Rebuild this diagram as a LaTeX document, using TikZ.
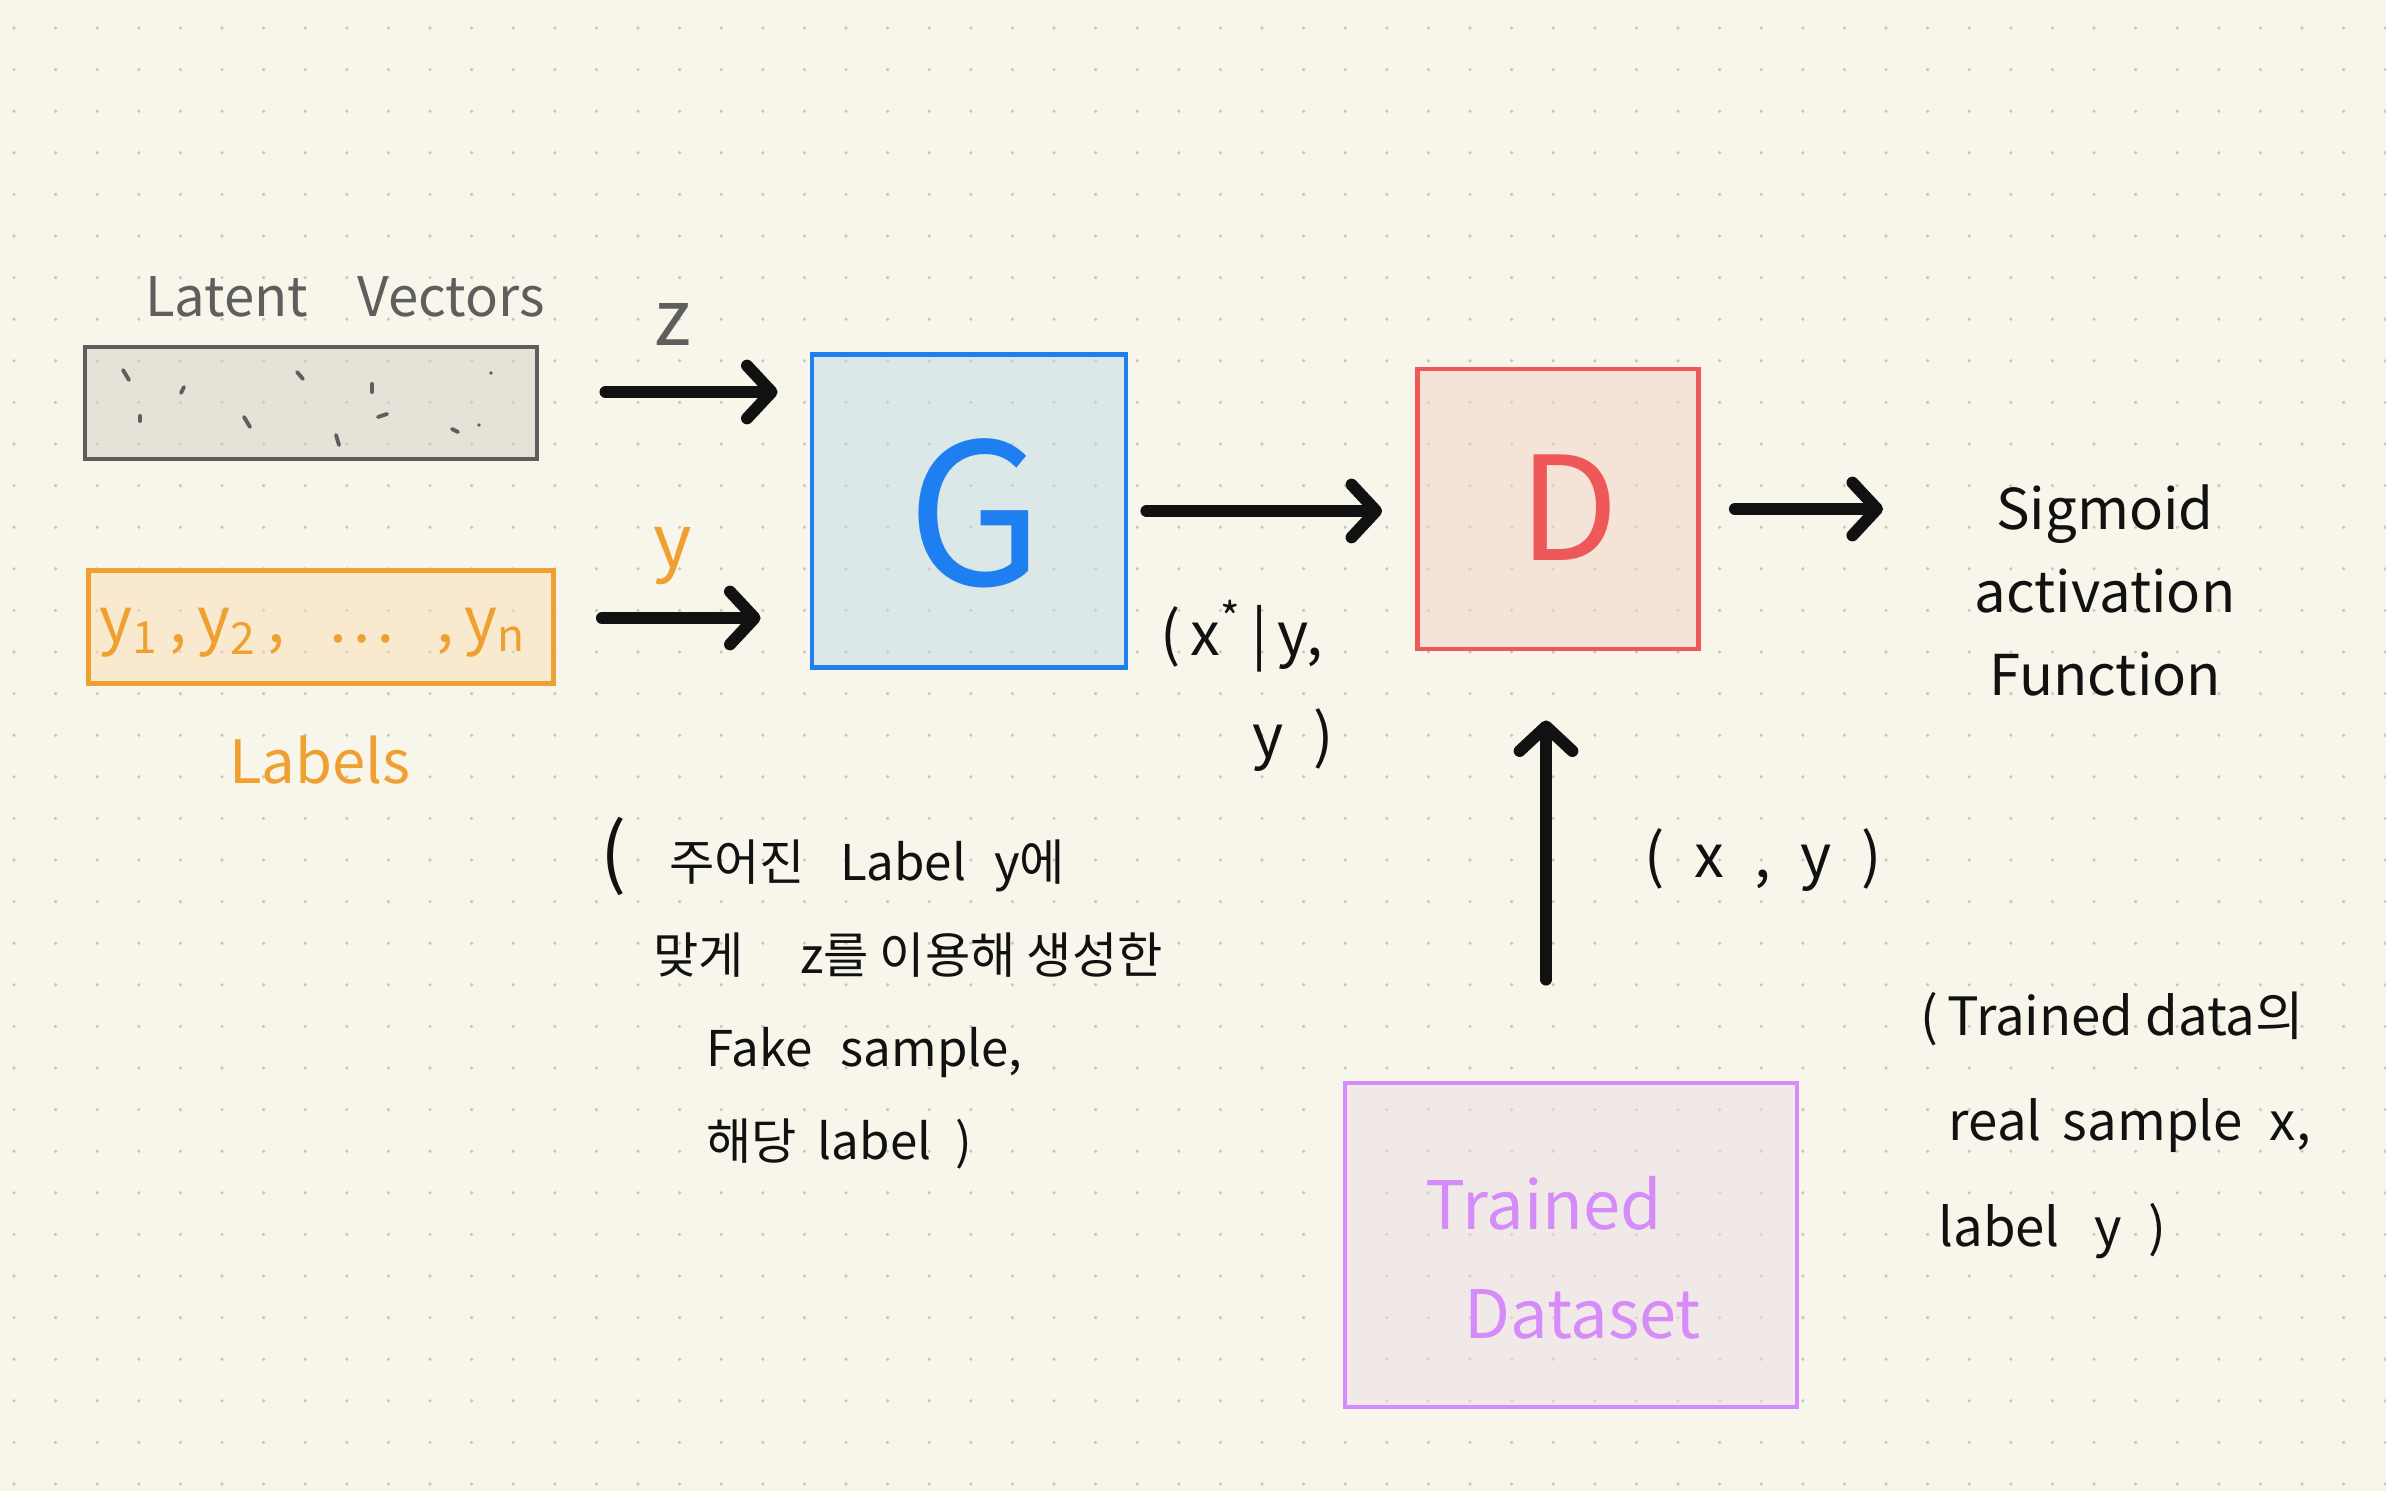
\documentclass[tikz,border=0pt]{standalone}
\usepackage{fontspec}
\setmainfont{Noto Sans CJK KR}
\usetikzlibrary{arrows.meta,positioning}

\definecolor{paper}{HTML}{F8F6EA}
\definecolor{dotgray}{HTML}{C9C7BF}
\definecolor{ink}{HTML}{111111}
\definecolor{latentline}{HTML}{5E5E5E}
\definecolor{latentfill}{HTML}{D4D2C8}
\definecolor{labline}{HTML}{F0A030}
\definecolor{labfill}{HTML}{F8DEB6}
\definecolor{genline}{HTML}{1E80F0}
\definecolor{genfill}{HTML}{C2DAE6}
\definecolor{discline}{HTML}{EE5858}
\definecolor{discfill}{HTML}{F6D2C6}
\definecolor{dataline}{HTML}{D68CF8}
\definecolor{datafill}{HTML}{ECDEE6}

\begin{document}
\begin{tikzpicture}[x=0.01cm, y=-0.01cm,
    box/.style={rectangle, draw, line width=1.3pt, inner sep=0pt, fill opacity=0.5, text opacity=1},
    hand/.style={inner sep=0pt, text=ink, font=\fontsize{16}{28}\selectfont},
    flow/.style={line width=3.4pt, line cap=round, line join=round, draw=ink, -{Straight Barb[length=7pt,width=15pt,round]}},
    scribble/.style={line width=1.1pt, line cap=round, draw=latentline}]
    \useasboundingbox (0,0) rectangle (2386,1491);
    \fill[paper] (0,0) rectangle (2386,1491);
    % dotted paper
    \foreach \i in {0,...,57}
        \foreach \j in {0,...,35}
            \fill[dotgray] ({14+41.6*\i},{28+41.6*\j}) circle[radius=0.018cm];

    % inputs
    \node [box, draw=latentline, fill=latentfill, minimum width=4.52cm, minimum height=1.12cm] (latent) at (311,403) {};
    \node [hand, text=latentline, font=\fontsize{15.5}{20}\selectfont] (latenttitle) at (345,297) {Latent\hspace{14pt}Vectors};
    \foreach \a/\b/\c/\d in {123/370/129/380, 181/393/184/387, 140/416/140/421, 297/372/303/379, 244/417/250/427,
        372/384/372/392, 378/417/387/414, 336/435/339/445, 452/429/458/432, 491/373/491/373, 479/425/479/425}
        \draw [scribble] (\a,\b) -- (\c,\d);
    \node [box, draw=labline, fill=labfill, minimum width=4.65cm, minimum height=1.13cm] (lab) at (321,627) {};
    \node [hand, text=labline, font=\fontsize{18}{20}\selectfont] (labtext) at (313,633)
        {y\textsubscript{1}\,,\,y\textsubscript{2}\,,\hspace{12pt}\dots\hspace{12pt},\,y\textsubscript{n}};
    \node [hand, text=labline, font=\fontsize{17}{20}\selectfont] (labtitle) at (320,760) {Labels};

    % generator and discriminator
    \node [box, draw=genline, fill=genfill, minimum width=3.14cm, minimum height=3.13cm] (gen) at (969,511) {};
    \node [hand, text=genline, font=\fontsize{56}{60}\selectfont] (gentext) at (975,513) {G};
    \node [box, draw=discline, fill=discfill, minimum width=2.81cm, minimum height=2.80cm] (disc) at (1558,509) {};
    \node [hand, text=discline, font=\fontsize{41}{44}\selectfont] (disctext) at (1569,508) {D};
    \node [box, draw=dataline, fill=datafill, minimum width=4.52cm, minimum height=3.24cm] (data) at (1571,1245) {};
    \node [hand, text=dataline, font=\fontsize{19}{31}\selectfont, align=left, anchor=west] (datatext) at (1425,1258)
        {Trained\\\hspace*{11pt}Dataset};

    % texts
    \node [hand, text=latentline, font=\fontsize{22}{24}\selectfont] (zlab) at (673,324) {z};
    \node [hand, text=labline, font=\fontsize{21}{24}\selectfont] (ylab) at (673,556) {y};
    \node [hand, font=\fontsize{17}{29}\selectfont, align=left, anchor=west] (fake) at (1160,686)
        {(\,x\textsuperscript{*}\,|\,y,\\\hspace*{26pt}y\enspace)};
    \node [hand, font=\fontsize{16}{23.6}\selectfont, align=center] (sig) at (2105,590)
        {Sigmoid\\activation\\Function};
    \node [hand, font=\fontsize{17}{20}\selectfont] (real) at (1763,860) {(\enspace x\enspace,\enspace y\enspace)};
    \node [hand, font=\fontsize{14}{26.5}\selectfont, align=left, anchor=west] (fakenote) at (600,993)
        {{\fontsize{22}{22}\selectfont(}\hspace{12pt}주어진\hspace{10pt}Label\hspace{8pt}y에\\
         \hspace*{15pt}맞게\hspace{16pt}z를 이용해 생성한\\
         \hspace*{30pt}Fake\hspace{8pt}sample,\\
         \hspace*{30pt}해당\hspace{6pt}label\enspace)};
    \node [hand, font=\fontsize{15}{30}\selectfont, align=left, anchor=west] (realnote) at (1920,1125)
        {(\,Trained data의\\\hspace*{8pt}real\hspace{6pt}sample\enspace x,\\\hspace*{5pt}label\hspace{10pt}y\enspace)};

    % connectors
    \draw [flow, shorten <=0.66cm, shorten >=0.32cm] ([yshift=0.11cm]latent.east) -- ([yshift=0.11cm]latent.east -| gen.west);
    \draw [flow, shorten <=0.46cm, shorten >=0.49cm] ([yshift=0.09cm]lab.east) -- ([yshift=0.09cm]lab.east -| gen.west);
    \draw [flow, shorten <=0.18cm, shorten >=0.33cm] (gen.east) -- (gen.east -| disc.west);
    \draw [flow, shorten <=0.34cm, shorten >=0.91cm] (disc.east) -- (disc.east -| sig.west);
    \draw [flow, shorten <=1.01cm, shorten >=0.69cm] ([xshift=-0.25cm]data.north) -- ([xshift=-0.25cm]data.north |- disc.south);
\end{tikzpicture}
\end{document}
